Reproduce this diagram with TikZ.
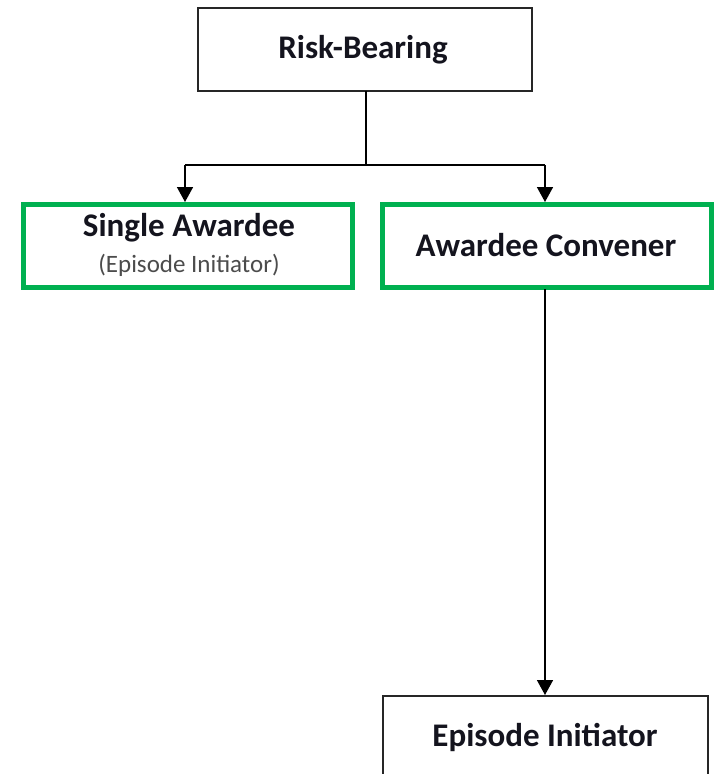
\documentclass[tikz,border=0pt]{standalone}
\usepackage{fontspec}
\setmainfont{Carlito}
\usetikzlibrary{arrows.meta}
\definecolor{boxgreen}{HTML}{00B050}
\definecolor{txtdark}{HTML}{14141E}
\tikzset{
  plainbox/.style={draw=black!85, line width=1.6pt, fill=white, inner sep=0pt},
  greenbox/.style={draw=boxgreen, line width=5pt, fill=white, inner sep=0pt},
  conn/.style={draw=black, line width=1.6pt},
  arr/.style={conn, -{Triangle[length=15pt,width=16pt]}},
  lbl/.style={font=\bfseries\fontsize{33}{36}\selectfont, text=txtdark}
}
\begin{document}
\begin{tikzpicture}[x=1pt,y=1pt]
\useasboundingbox (0,0) rectangle (715,-774);
\clip (0,0) rectangle (715,-774);
% boxes
\draw[plainbox] (198,-8) rectangle (532,-91);
\node[lbl] (rb) at (363,-50) {Risk-Bearing};
\coordinate (rbb) at (366,-91);
\draw[greenbox] (23,-204) rectangle (352,-287);
\node[lbl] (sa) at (189,-228) {Single Awardee};
\node[font=\fontsize{25}{28}\selectfont, text=black!70] (sai) at (189,-265) {(Episode Initiator)};
\draw[greenbox] (382,-204) rectangle (711,-287);
\node[lbl] (ac) at (546,-245) {Awardee Convener};
\draw[plainbox] (383,-696) rectangle (708,-800);
\node[lbl] (ei) at (545,-737) {Episode Initiator};
% connectors
\coordinate (j) at (366,-165);
\coordinate (jl) at (185,-165);
\coordinate (jr) at (545,-165);
\coordinate (tl) at (185,-202);
\coordinate (tr) at (545,-202);
\coordinate (acb) at (545,-289);
\coordinate (eit) at (545,-695);
\draw[conn] (rbb) -- (j);
\draw[conn] (jl) -- (jr);
\draw[arr] (jl) -- (tl);
\draw[arr] (jr) -- (tr);
\draw[arr] (acb) -- (eit);
\end{tikzpicture}
\end{document}
